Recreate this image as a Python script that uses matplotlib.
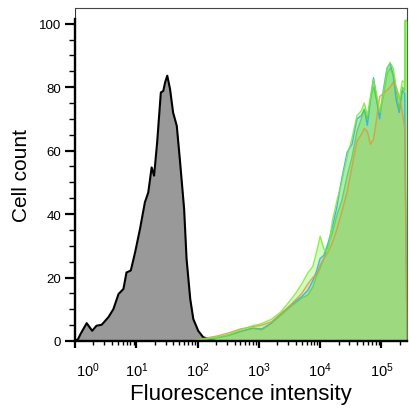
import numpy as np
import matplotlib
matplotlib.use("Agg")
import matplotlib.pyplot as plt
import matplotlib.transforms as mtransforms

plt.rcParams['font.family'] = ['Liberation Sans', 'DejaVu Sans']
plt.rcParams['mathtext.fontset'] = 'custom'
plt.rcParams['mathtext.rm'] = 'Liberation Sans'
plt.rcParams['mathtext.it'] = 'Liberation Sans'

# unstained / isotype control (grey), x in log10 units
gray_log = [0.0, 0.05, 0.09, 0.19, 0.28, 0.35, 0.435, 0.545, 0.625, 0.71, 0.79, 0.84,
            0.91, 0.98, 1.06, 1.14, 1.195, 1.25, 1.29, 1.34, 1.40, 1.44, 1.47, 1.505,
            1.55, 1.60, 1.66, 1.71, 1.78, 1.82, 1.88, 1.93, 2.01, 2.09, 2.2, 2.3]
gray_count = [0, 0.6, 2.2, 5.6, 3.2, 4.8, 5.1, 7.5, 10, 14.8, 16.4, 21.6,
              22.2, 27.9, 35.3, 43.7, 46.8, 54.7, 52.1, 62.6, 78.3, 78.8, 81.5, 83.6,
              79.4, 72, 67.8, 57.3, 41.6, 25.8, 13.2, 6.9, 3.2, 1.2, 0.5, 0]

# stained samples, shared grid in log10 units
stain_log = [0.0, 1.9, 2.1, 2.3, 2.5, 2.7, 2.9, 3.05, 3.2, 3.35, 3.5, 3.6, 3.7, 3.8,
             3.88, 3.94, 4.0, 4.06, 4.13, 4.2, 4.27, 4.35, 4.44, 4.52, 4.6, 4.67,
             4.72, 4.77, 4.82, 4.87, 4.92, 4.97, 5.03, 5.09, 5.14, 5.19, 5.24, 5.29,
             5.34, 5.38, 5.385, 5.418]
blue_count = [0, 0, 0.5, 1.0, 1.8, 3.0, 4.0, 3.8, 5.6, 8.2, 11, 12.5, 14, 16,
              19, 22, 26, 27, 31, 36, 42, 51, 59.5, 62, 70, 71,
              73, 68, 76, 83, 76, 70, 79, 86, 87.5, 84, 76, 72,
              79, 78, 60, 0]
green_count = [0, 0, 0.5, 1.0, 1.7, 3.0, 4.0, 3.5, 5.5, 8.0, 10.5, 12, 13.5, 14.5,
               17, 20.5, 23, 26, 30, 34, 39.5, 44, 52, 58, 66, 70,
               73, 70, 76, 80, 76, 72, 77, 84, 86, 84, 79, 73,
               80, 79, 101, 101]
orange_count = [0, 0, 0.8, 1.5, 2.5, 3.8, 4.5, 5.0, 6.0, 8.5, 11, 13, 15, 18,
                20, 21, 24, 26, 28, 31, 35, 40.5, 47, 55, 63, 65,
                67, 66, 62, 63.5, 70, 77, 78, 79, 80, 81.5, 80, 77,
                72, 67, 55, 0]
lime_count = [0, 0, 0.6, 1.2, 2.0, 3.5, 4.8, 5.5, 6.8, 9.0, 12.5, 15, 18, 21.5,
              23.5, 28, 33, 29, 28, 38, 44, 50, 58, 64, 71, 72.5,
              75, 71, 77, 82.5, 78, 72, 78, 85.5, 87.8, 86, 80, 76,
              82, 81.5, 101, 101]

fig = plt.figure(figsize=(4.1, 4.14), dpi=100)
ax = fig.add_axes([0.183, 0.174, 0.810, 0.804])

gx = 10 ** np.array(gray_log)
ax.fill_between(gx, gray_count, 0, color='#999999', lw=0, zorder=2)
ax.plot(gx, gray_count, color='black', lw=1.5, zorder=3)

sx = 10 ** np.array(stain_log)
series = [
    (blue_count, '#28aaf0', 0.25),
    (green_count, '#5ad23c', 0.35),
    (orange_count, '#dc9a3c', 0.20),
    (lime_count, '#78eb32', 0.30),
]
for counts, col, a in series:
    ax.fill_between(sx, counts, 0, color=col, alpha=a, lw=0, zorder=4)
for counts, col, a in series:
    ax.plot(sx, counts, color=col, lw=1.0, alpha=0.85, zorder=5)

ax.set_xscale('log')
ax.set_xlim(1, 262144)
ax.set_ylim(0, 104.9)

ax.set_xticks([1, 10, 100, 1e3, 1e4, 1e5])
ax.set_xticklabels([r'$\mathregular{10^{%d}}$' % i for i in range(6)])
ax.xaxis.set_minor_locator(matplotlib.ticker.LogLocator(base=10, subs=np.arange(2, 10)))
ax.xaxis.set_minor_formatter(matplotlib.ticker.NullFormatter())
ax.set_yticks([0, 20, 40, 60, 80, 100])
ax.set_yticks(np.arange(0, 101, 5), minor=True)

ax.tick_params(axis='x', which='major', length=5, width=1.6, labelsize=10.5, pad=9)
ax.tick_params(axis='x', which='minor', length=3, width=1.0)
ax.tick_params(axis='y', which='major', length=7, width=1.6, labelsize=9.5, pad=3)
ax.tick_params(axis='y', which='minor', length=4, width=1.0)

# nudge the first decade label inside the axis
lab0 = ax.get_xticklabels()[0]
lab0.set_transform(lab0.get_transform() + mtransforms.ScaledTranslation(13 / 100, 0, fig.dpi_scale_trans))

for s in ['left', 'bottom']:
    ax.spines[s].set_linewidth(1.7)
    ax.spines[s].set_zorder(6)
ax.spines['left'].set_bounds(0, 101.5)
ax.axvline(1, ymin=101.5 / 104.9, ymax=1, color='#333333', lw=0.8)
for s in ['top', 'right']:
    ax.spines[s].set_linewidth(0.8)
    ax.spines[s].set_color('#444444')

ax.set_xlabel('Fluorescence intensity', fontsize=16, labelpad=3)
ax.set_ylabel('Cell count', fontsize=15, labelpad=6)

fig.savefig('out.png', dpi=100)
